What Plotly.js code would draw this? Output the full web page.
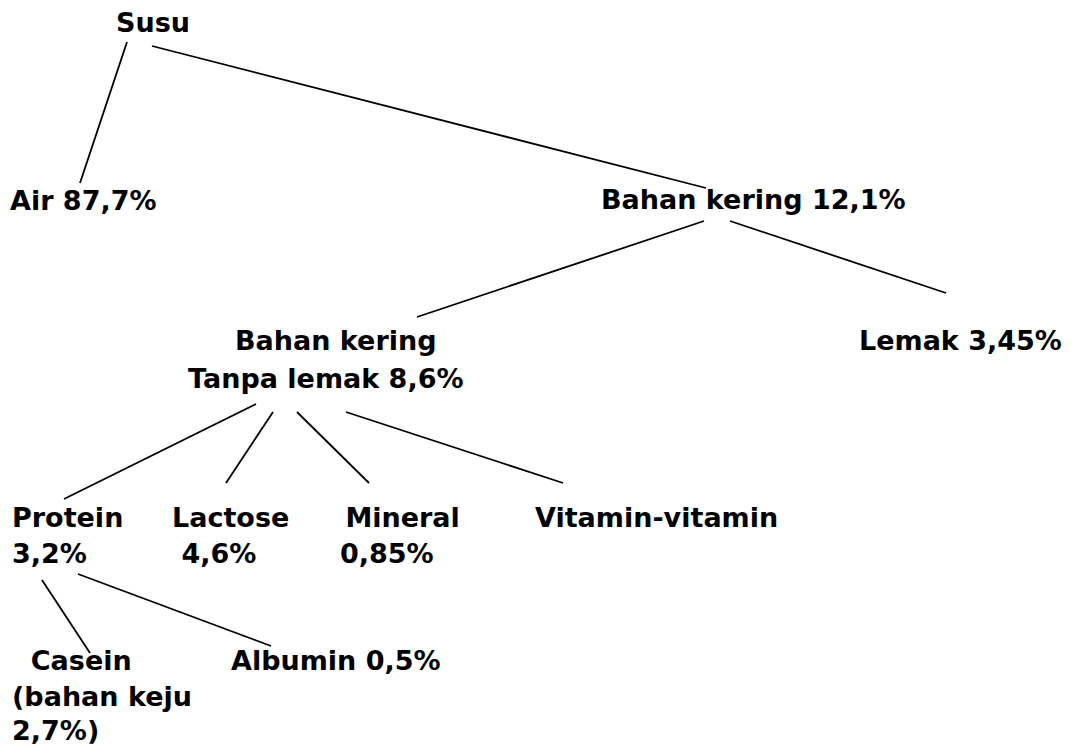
<!DOCTYPE html>
<html><head><meta charset="utf-8">
<script src="https://cdn.plot.ly/plotly-3.0.1.min.js"></script>
<style>html,body{margin:0;padding:0;background:#fff}#chart{width:1073px;height:747px}</style>
</head><body><div id="chart"></div>
<script>
// Label lines of the tree (text content)
var labelText = [
  "Susu",
  "Air 87,7%",
  "Bahan kering 12,1%",
  "Lemak 3,45%",
  "Bahan kering",
  "Tanpa lemak 8,6%",
  "Protein",
  "3,2%",
  "Lactose",
  " 4,6%",
  " Mineral",
  "0,85%",
  "Vitamin-vitamin",
  "  Casein",
  "(bahan keju",
  "2,7%)",
  "Albumin 0,5%"
];
// Layout: left edge / vertical centre of each label line (pixel space)
var labelX = [116, 10, 601, 859, 235, 188, 12, 12, 172, 172, 336, 340, 535, 12, 12, 12, 231];
var labelY = [25, 203, 202, 343, 343, 381, 520, 556, 520, 556, 520, 556, 520, 663, 699, 733, 663];

// Connector segments: [x0, y0, x1, y1]
var edgeX0 = [127, 152, 704, 730, 256, 273, 297, 346, 42, 78];
var edgeY0 = [42, 46, 221, 221, 404, 412, 412, 412, 580, 574];
var edgeX1 = [80, 706, 417, 946, 64, 226, 369, 563, 90, 271];
var edgeY1 = [183, 188, 317, 293, 499, 483, 483, 483, 653, 646];

var traces = [];
for (var i = 0; i < edgeX0.length; i++) {
  traces.push({
    type: 'scatter', mode: 'lines',
    x: [edgeX0[i], edgeX1[i]], y: [edgeY0[i], edgeY1[i]],
    line: {color: '#000', width: 1.8},
    hoverinfo: 'skip', showlegend: false
  });
}
traces.push({
  type: 'scatter', mode: 'text',
  x: labelX, y: labelY, text: labelText,
  textposition: 'middle right',
  cliponaxis: false,
  textfont: {family: 'DejaVu Sans, Verdana, sans-serif', size: 27, color: '#000', weight: 'bold'},
  hoverinfo: 'skip', showlegend: false
});

var layout = {
  width: 1073, height: 747,
  margin: {l: 0, r: 0, t: 0, b: 0},
  paper_bgcolor: '#fff', plot_bgcolor: '#fff',
  xaxis: {range: [0, 1073], visible: false, fixedrange: true},
  yaxis: {range: [747, 0], visible: false, fixedrange: true},
  showlegend: false
};
Plotly.newPlot('chart', traces, layout, {staticPlot: true, displayModeBar: false});
</script></body></html>
